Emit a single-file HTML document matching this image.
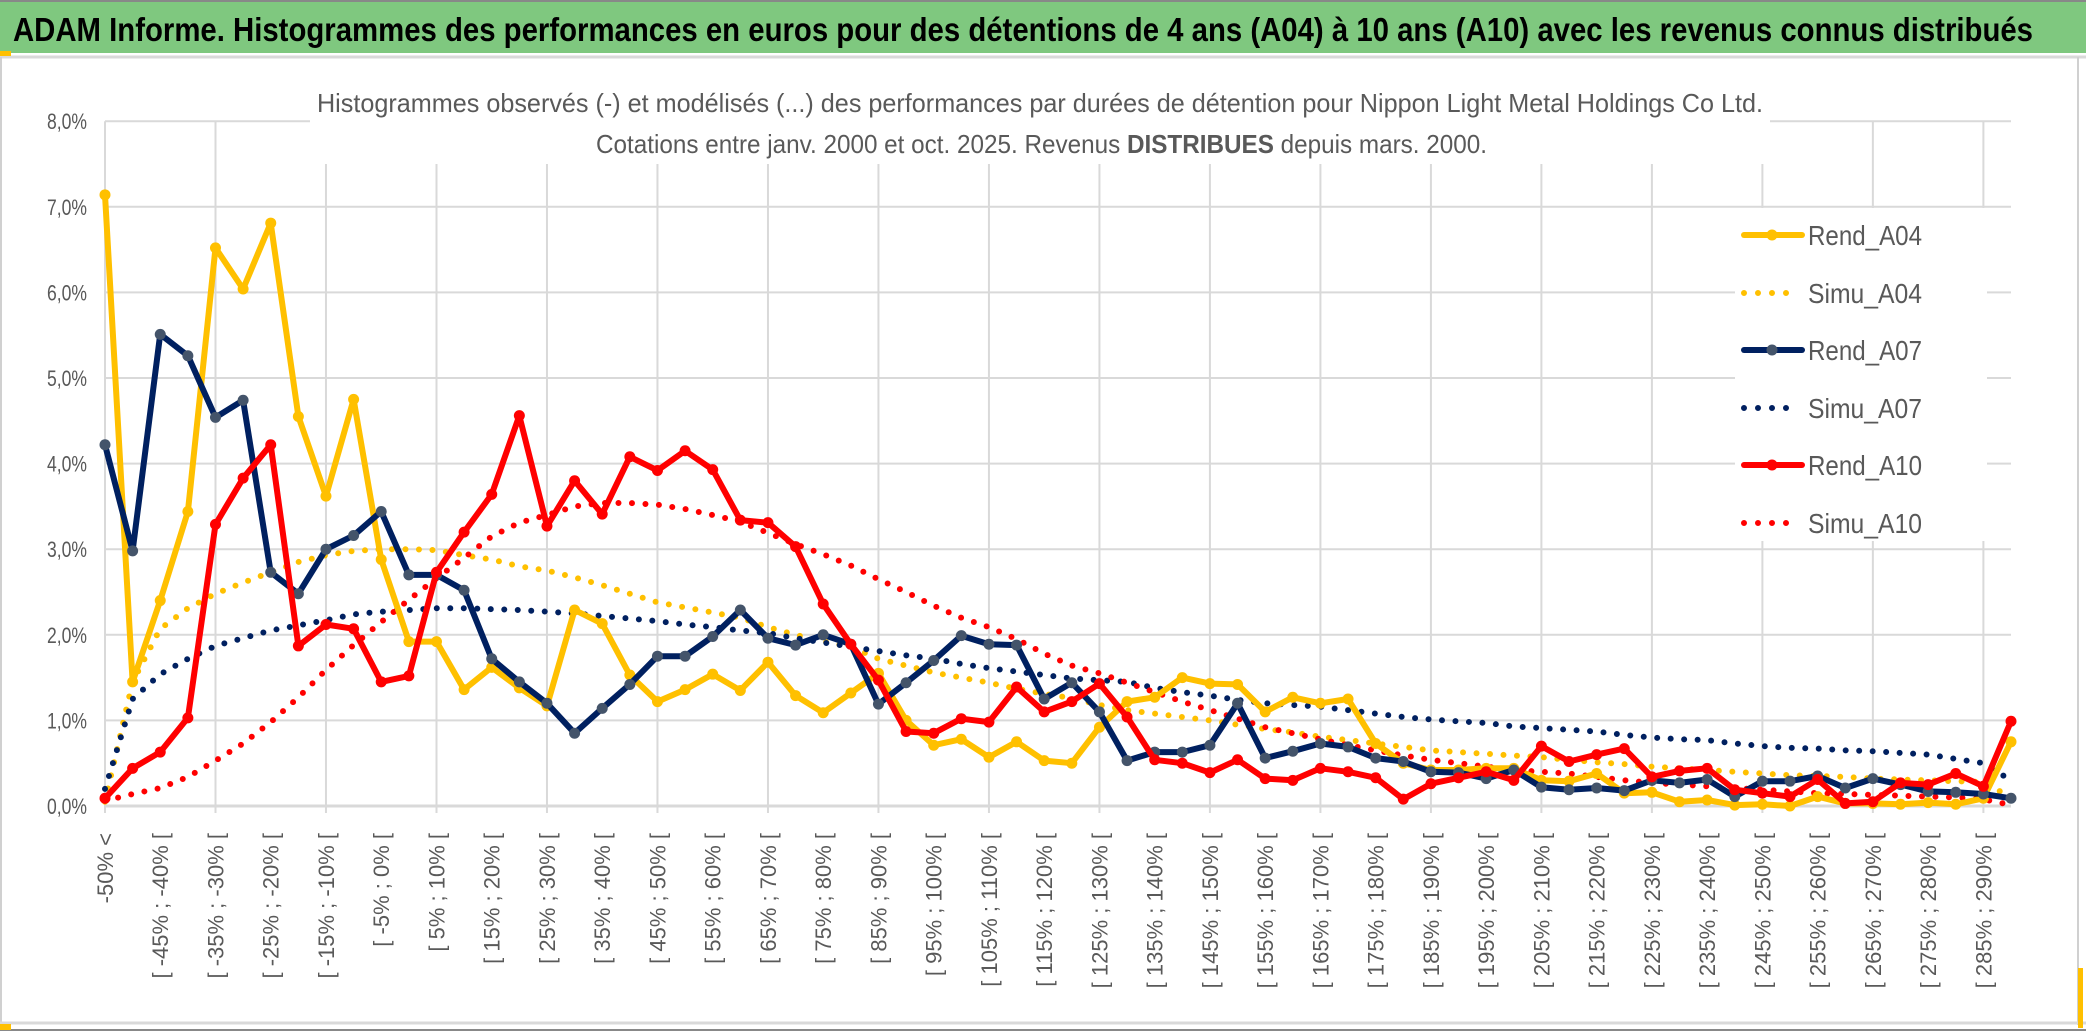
<!DOCTYPE html>
<html><head><meta charset="utf-8"><style>
html,body{margin:0;padding:0;background:#fff;}
svg{display:block;font-family:"Liberation Sans",sans-serif;}
</style></head><body>
<svg id="chart" width="2086" height="1033" viewBox="0 0 2086 1033" xmlns="http://www.w3.org/2000/svg">
<rect x="0" y="0" width="2086" height="1033" fill="#fff"/>
<rect x="0" y="2" width="2086" height="51" fill="#7FC87F"/>
<line x1="0" y1="1" x2="2086" y2="1" stroke="#888" stroke-width="2"/>
<text x="13" y="41" font-size="33" font-weight="bold" fill="#000" textLength="2020" lengthAdjust="spacingAndGlyphs">ADAM Informe. Histogrammes des performances en euros pour des détentions de 4 ans (A04) à 10 ans (A10) avec les revenus connus distribués</text>
<line x1="0" y1="57" x2="2086" y2="57" stroke="#d9d9d9" stroke-width="3"/>
<rect x="0" y="51" width="11" height="5" fill="#FFC000"/>
<line x1="1" y1="57" x2="1" y2="1025" stroke="#d0d0d0" stroke-width="2"/>
<line x1="2078" y1="57" x2="2078" y2="1025" stroke="#d0d0d0" stroke-width="2"/>
<line x1="0" y1="1023" x2="2086" y2="1023" stroke="#d9d9d9" stroke-width="3"/>
<line x1="0" y1="1030" x2="2086" y2="1030" stroke="#888" stroke-width="2"/>
<rect x="0" y="1024" width="11" height="6" fill="#FFC000"/>
<rect x="2078" y="968" width="5" height="60" fill="#FFC000"/>
<g id="grid"></g>
<rect x="310" y="70" width="1460" height="94" fill="#fff"/>
<text x="317" y="112" font-size="26" fill="#595959" textLength="1446" lengthAdjust="spacingAndGlyphs">Histogrammes observés (-) et modélisés (...) des performances  par durées de détention pour Nippon Light Metal Holdings Co Ltd.</text>
<text x="596" y="153" font-size="26" fill="#595959" textLength="891" lengthAdjust="spacingAndGlyphs">Cotations entre janv. 2000 et oct. 2025. Revenus <tspan font-weight="bold">DISTRIBUES</tspan> depuis mars. 2000.</text>
<g id="yticks"></g>
<g id="xticks"></g>
<g id="series"></g>
<rect x="1735" y="208" width="252" height="333" fill="#fff"/>
<g id="legend"></g>
</svg>
<script>
const yTicks = [0,1,2,3,4,5,6,7,8];
const rendA04 = [7.14,1.45,2.40,3.44,6.52,6.04,6.81,4.55,3.62,4.75,2.88,1.92,1.92,1.36,1.62,1.38,1.17,2.29,2.13,1.53,1.22,1.36,1.54,1.35,1.68,1.29,1.09,1.32,1.55,1.00,0.71,0.78,0.57,0.75,0.53,0.50,0.92,1.22,1.27,1.50,1.43,1.42,1.10,1.27,1.20,1.25,0.73,0.50,0.42,0.42,0.44,0.44,0.30,0.29,0.38,0.15,0.16,0.05,0.07,0.01,0.02,0.00,0.11,0.03,0.03,0.02,0.04,0.02,0.09,0.75];
const rendA07 = [4.22,2.98,5.51,5.26,4.54,4.74,2.73,2.48,3.00,3.16,3.44,2.70,2.70,2.52,1.72,1.45,1.20,0.85,1.14,1.42,1.75,1.75,1.98,2.29,1.96,1.88,2.00,1.89,1.19,1.44,1.70,1.99,1.89,1.88,1.25,1.44,1.10,0.53,0.63,0.63,0.71,1.20,0.56,0.64,0.73,0.69,0.56,0.52,0.40,0.39,0.32,0.42,0.22,0.19,0.21,0.18,0.30,0.27,0.31,0.11,0.29,0.29,0.35,0.21,0.32,0.25,0.17,0.16,0.14,0.09];
const rendA10 = [0.09,0.44,0.63,1.03,3.29,3.83,4.22,1.87,2.12,2.07,1.45,1.52,2.73,3.20,3.64,4.56,3.27,3.80,3.41,4.08,3.92,4.15,3.93,3.34,3.31,3.03,2.36,1.89,1.47,0.87,0.85,1.02,0.98,1.39,1.10,1.22,1.43,1.04,0.54,0.50,0.39,0.54,0.32,0.30,0.44,0.40,0.33,0.08,0.26,0.33,0.40,0.30,0.70,0.52,0.60,0.67,0.34,0.41,0.44,0.19,0.15,0.11,0.31,0.03,0.05,0.27,0.25,0.38,0.23,0.99];
const simuA04 = [0.05,1.45,2.07,2.31,2.48,2.61,2.73,2.85,2.93,2.98,3.00,3.00,2.99,2.93,2.88,2.80,2.75,2.67,2.58,2.48,2.38,2.32,2.26,2.20,2.09,2.00,1.92,1.86,1.72,1.64,1.56,1.50,1.44,1.37,1.31,1.26,1.18,1.12,1.08,1.04,1.00,0.95,0.90,0.86,0.81,0.77,0.73,0.69,0.65,0.63,0.61,0.59,0.57,0.54,0.51,0.49,0.46,0.44,0.42,0.40,0.38,0.36,0.35,0.34,0.32,0.31,0.30,0.29,0.28,0.10];
const simuA07 = [0.20,1.25,1.54,1.72,1.87,1.96,2.05,2.11,2.17,2.24,2.27,2.29,2.31,2.31,2.30,2.29,2.27,2.25,2.22,2.19,2.16,2.12,2.09,2.05,2.02,1.96,1.91,1.86,1.81,1.76,1.72,1.66,1.61,1.57,1.53,1.49,1.47,1.45,1.38,1.33,1.29,1.24,1.20,1.18,1.16,1.12,1.08,1.04,1.01,0.99,0.97,0.93,0.91,0.89,0.87,0.83,0.80,0.78,0.77,0.73,0.70,0.68,0.67,0.65,0.64,0.62,0.60,0.55,0.50,0.30];
const simuA10 = [0.06,0.14,0.21,0.34,0.53,0.73,0.98,1.27,1.59,1.88,2.15,2.41,2.66,2.90,3.15,3.31,3.40,3.50,3.54,3.54,3.52,3.47,3.40,3.32,3.19,3.06,2.94,2.81,2.65,2.50,2.34,2.20,2.09,1.95,1.78,1.64,1.55,1.44,1.33,1.22,1.12,1.02,0.92,0.85,0.78,0.71,0.65,0.59,0.54,0.50,0.46,0.42,0.40,0.38,0.34,0.30,0.27,0.25,0.23,0.21,0.19,0.17,0.15,0.14,0.13,0.12,0.11,0.10,0.08,0.01];

const NS = "http://www.w3.org/2000/svg";
const X0 = 105, X1 = 2011, Y0 = 806, YPER = 85.6;
const N = rendA04.length;
function xPos(i){ return X0 + i*(X1-X0)/(N-1); }
function yPos(v){ return Y0 - v*YPER; }
function mk(tag, attrs, parent){ const e=document.createElementNS(NS,tag); for(const k in attrs) e.setAttribute(k,attrs[k]); parent.appendChild(e); return e; }
function catLabel(i){ if(i===0) return "-50% <"; const a=-50+5*(i-1); return "[ "+a+"% ; "+(a+5)+"% ["; }

const grid = document.getElementById('grid');
yTicks.forEach(t=>{
  const l = mk('line',{x1:X0,x2:X1,y1:yPos(t),y2:yPos(t),stroke:'#d9d9d9','stroke-width':t===0?3:2},grid);
  
  
});
for(let i=0;i<N;i+=4){
  const l = mk('line',{x1:xPos(i),x2:xPos(i),y1:yPos(8),y2:813,stroke:'#d9d9d9','stroke-width':2},grid);
  
  
}
const yt = document.getElementById('yticks');
yTicks.forEach(t=>{
  const tx = mk('text',{x:87,y:yPos(t)+8,'font-size':22,fill:'#595959','text-anchor':'end',textLength:40,lengthAdjust:'spacingAndGlyphs'},yt);
  tx.textContent = t.toFixed(1).replace('.',',')+'%';
  
  
});
const xt = document.getElementById('xticks');
for(let i=0;i<N;i+=2){
  const x = xPos(i)+8;
  const tx = mk('text',{x:0,y:0,'font-size':22,fill:'#595959','text-anchor':'end',transform:'translate('+x+',833) rotate(-90)'},xt);
  tx.textContent = catLabel(i);
  
  
}

const ser = document.getElementById('series');
function pts(arr){ return arr.map((v,i)=>xPos(i).toFixed(1)+','+yPos(v).toFixed(1)).join(' '); }
function dotted(arr,color,name){
  const p = mk('polyline',{points:pts(arr),fill:'none',stroke:color,'stroke-width':6,'stroke-linecap':'round','stroke-dasharray':'0 13.5'},ser);
  
  
}
function solid(arr,color,mcolor,name){
  const p = mk('polyline',{points:pts(arr),fill:'none',stroke:color,'stroke-width':6,'stroke-linejoin':'round'},ser);
  
  
  arr.forEach((v,i)=>{
    const c = mk('circle',{cx:xPos(i),cy:yPos(v),r:5.5,fill:mcolor},ser);
    
    
  });
}
dotted(simuA04,'#FFC000','simu-a04-line');
dotted(simuA07,'#002060','simu-a07-line');
dotted(simuA10,'#FF0000','simu-a10-line');
solid(rendA04,'#FFC000','#FFC000','rend-a04-line');
solid(rendA07,'#002060','#44546A','rend-a07-line');
solid(rendA10,'#FF0000','#FF0000','rend-a10-line');

const leg = document.getElementById('legend');
const legendItems = [['Rend_A04','#FFC000','#FFC000',false],['Simu_A04','#FFC000',null,true],['Rend_A07','#002060','#44546A',false],['Simu_A07','#002060',null,true],['Rend_A10','#FF0000','#FF0000',false],['Simu_A10','#FF0000',null,true]];
const legendY = [235,293,350,408,465,523];
legendItems.forEach((it,j)=>{
  const g = mk('g',{},leg);
  
  
  const y = legendY[j];
  if(it[3]){
    mk('line',{x1:1744,x2:1792,y1:y,y2:y,stroke:it[1],'stroke-width':6,'stroke-linecap':'round','stroke-dasharray':'0 14'},g);
  } else {
    mk('line',{x1:1744,x2:1802,y1:y,y2:y,stroke:it[1],'stroke-width':6,'stroke-linecap':'round'},g);
    mk('circle',{cx:1772,cy:y,r:5.5,fill:it[2]},g);
  }
  const t = mk('text',{x:1808,y:y+10,'font-size':28,fill:'#595959',textLength:114,lengthAdjust:'spacingAndGlyphs'},g);
  t.textContent = it[0];
});
</script>
</body></html>
